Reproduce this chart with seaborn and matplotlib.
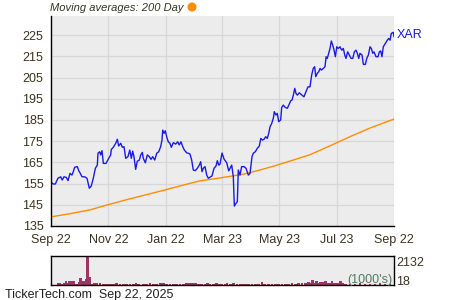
import matplotlib
matplotlib.use("Agg")
import matplotlib.pyplot as plt
from matplotlib.patches import Ellipse
from matplotlib.ticker import FixedLocator
import seaborn as sns

# ---------------- data ----------------
price_days = [0.0, 2.1, 4.6, 7.4, 10.3, 12.0, 13.8, 16.3, 18.1, 20.2, 22.3, 23.7, 25.2, 28.0, 29.5,
              31.2, 33.0, 35.9, 38.3, 40.8, 42.9, 45.0, 47.2, 49.3, 50.0, 51.8, 52.9, 54.3, 55.7,
              58.5, 61.4, 63.5, 64.2, 66.3, 67.8, 68.9, 70.6, 72.0, 74.2, 75.9, 77.7, 79.5, 81.9,
              83.8, 85.5, 86.9, 88.3, 90.1, 91.8, 94.0, 95.5, 97.2, 98.2, 100.4, 102.5, 104.6,
              106.4, 108.2, 110.4, 112.5, 114.6, 116.7, 118.1, 118.9, 120.3, 121.6, 123.1, 124.8,
              126.6, 128.0, 130.2, 132.7, 134.8, 136.5, 138.3, 140.2, 141.9, 144.4, 146.1, 147.9,
              149.7, 151.4, 153.6, 155.7, 157.8, 159.3, 160.7, 162.1, 163.9, 165.7, 167.4, 169.2,
              171.3, 173.5, 175.6, 177.0, 178.5, 179.8, 182.0, 184.1, 187.0, 189.1, 192.3, 194.0,
              195.1, 196.9, 198.3, 199.3, 201.1, 202.9, 205.4, 207.5, 210.0, 211.8, 213.9, 215.3,
              217.4, 219.5, 221.7, 223.2, 224.9, 226.7, 228.5, 230.2, 231.7, 233.1, 234.9, 236.6,
              237.6, 239.4, 240.8, 242.3, 244.4, 245.5, 247.2, 249.3, 251.5, 253.6, 255.1, 256.5,
              257.9, 259.4, 260.7, 262.1, 264.2, 267.8, 269.2, 271.3, 273.5, 275.6, 277.4, 279.1,
              280.6, 281.7, 283.4, 284.9, 286.3, 287.7, 289.8, 291.6, 292.7, 294.0, 295.5, 296.9,
              298.3, 299.8, 301.2, 302.6, 304.1, 305.7, 307.5, 309.4, 311.1, 312.6, 313.9, 315.7,
              317.4, 319.3, 321.1, 322.8, 324.6, 326.0, 327.5, 328.8, 331.0, 332.4, 334.5, 336.0,
              337.7, 339.5, 340.9, 342.4, 343.7, 345.9, 348.0, 349.4, 350.9, 352.2, 353.6, 355.7,
              357.9, 359.4, 360.8, 362.1, 364.3, 365.0]
price_vals = [155.9, 154.8, 154.8, 157.5, 158.2, 156.7, 158.2, 157.9, 156.4, 159.8, 159.0, 160.6,
              162.7, 163.0, 161.1, 159.8, 158.2, 158.2, 157.5, 152.8, 153.9, 157.5, 162.2, 163.7,
              169.3, 170.0, 168.5, 170.5, 164.5, 164.5, 166.9, 168.5, 171.1, 172.1, 173.2, 174.0,
              175.9, 172.7, 174.0, 172.1, 172.4, 166.9, 167.7, 170.8, 166.9, 170.3, 167.7, 161.7,
              165.5, 166.1, 168.5, 169.7, 166.9, 164.8, 168.5, 167.7, 166.4, 167.7, 166.1, 169.3,
              170.0, 172.4, 175.5, 180.2, 178.7, 179.9, 177.1, 174.7, 174.0, 172.1, 174.3, 173.6,
              174.7, 173.2, 174.7, 172.4, 170.8, 169.5, 169.3, 168.9, 166.1, 161.4, 161.1, 162.2,
              163.7, 165.3, 160.6, 162.2, 163.0, 159.0, 157.5, 158.0, 158.6, 162.2, 163.3, 165.8,
              163.7, 164.1, 169.4, 166.6, 164.8, 161.0, 163.7, 158.2, 144.4, 145.7, 146.5, 161.4,
              159.0, 163.0, 163.0, 162.2, 159.0, 159.8, 167.7, 169.3, 170.0, 171.6, 172.7, 176.3,
              175.5, 175.9, 177.1, 176.3, 178.7, 181.8, 183.4, 185.8, 188.9, 187.3, 188.1, 184.2,
              185.0, 190.9, 192.0, 190.9, 190.5, 192.5, 194.0, 194.4, 196.7, 199.9, 197.5, 196.7,
              197.8, 196.4, 195.9, 198.3, 200.6, 200.6, 206.2, 209.3, 210.1, 205.4, 207.0, 207.7,
              209.3, 208.5, 209.3, 210.1, 214.8, 214.0, 216.4, 218.7, 222.2, 220.3, 217.9, 214.8,
              219.5, 218.7, 219.5, 217.9, 218.7, 215.6, 214.0, 217.1, 215.6, 214.0, 214.0, 217.1,
              217.9, 216.4, 214.0, 216.4, 215.6, 211.2, 211.2, 214.0, 215.6, 219.5, 218.7, 216.4,
              217.1, 214.8, 214.8, 217.1, 217.5, 214.8, 219.5, 221.0, 222.6, 223.4, 222.6, 225.8,
              226.3, 224.2]

ma_days = [0.0, 20.2, 41.5, 59.6, 78.8, 100.0, 121.3, 142.6, 158.6, 174.5, 190.5, 206.5, 222.4,
           238.4, 254.3, 275.6, 296.9, 318.2, 339.5, 365.0]
ma_vals = [139.3, 140.8, 142.6, 144.9, 147.2, 149.6, 152.0, 154.5, 156.3, 157.3, 158.4, 159.6,
           161.4, 163.4, 165.6, 168.6, 172.8, 177.1, 181.2, 185.4]

vol_days = [7.4, 9.6, 11.7, 13.8, 16.0, 18.1, 19.5, 21.6, 23.1, 24.5, 25.9, 28.0, 30.1, 31.6,
            33.0, 34.4, 35.9, 37.2, 38.8, 40.8, 42.2, 44.4, 46.5, 48.6, 52.1, 55.7, 59.2, 62.0,
            64.2, 66.3, 69.9, 73.4, 77.0, 80.6, 84.1, 87.6, 90.5, 92.9, 95.5, 98.2, 101.8, 105.4,
            108.9, 112.5, 115.9, 118.1, 120.3, 123.1, 126.6, 130.2, 133.8, 137.3, 140.8, 143.7,
            146.1, 148.7, 151.4, 154.3, 157.2, 160.4, 163.9, 166.3, 169.2, 172.7, 176.3, 179.1,
            181.7, 185.2, 187.3, 190.8, 194.4, 197.9, 201.5, 204.0, 206.8, 210.4, 213.9, 217.4,
            221.0, 224.5, 227.4, 231.7, 235.2, 238.7, 242.3, 245.8, 249.3, 253.0, 256.5, 260.0,
            263.6, 267.1, 270.6, 274.2, 276.4, 278.5, 280.6, 282.8, 284.9, 287.0, 289.1, 291.9,
            294.8, 296.9, 299.0, 301.2, 303.3, 306.2, 308.3, 310.4, 311.8, 313.9, 318.2, 323.5,
            328.8, 334.2, 339.5, 344.8, 350.1, 355.4, 360.8]
vol_vals = [178, 178, 51, 127, 279, 127, 330, 76, 330, 330, 76, 51, 229, 483, 279, 330, 330, 432,
            2132, 584, 76, 51, 152, 127, 127, 102, 102, 76, 51, 51, 127, 76, 76, 102, 51, 76, 127,
            76, 25, 51, 76, 178, 76, 102, 127, 178, 127, 102, 76, 76, 51, 51, 76, 152, 127, 127,
            152, 152, 76, 76, 76, 127, 76, 102, 178, 102, 51, 51, 127, 76, 127, 76, 102, 51, 102,
            76, 51, 76, 76, 203, 76, 51, 51, 51, 51, 76, 51, 51, 127, 102, 127, 178, 152, 203, 127,
            381, 178, 279, 178, 229, 229, 279, 178, 127, 279, 127, 152, 178, 279, 178, 76, 76, 102,
            76, 127, 102, 76, 102, 127, 102, 76]

xtick_days = [0, 61, 122, 182, 243, 304, 365]
xtick_labels = ["Sep 22", "Nov 22", "Jan 22", "Mar 23", "May 23", "Jul 23", "Sep 22"]
xminor_days = [30, 91, 153, 212, 273, 335]
ytick_vals = [135, 145, 155, 165, 175, 185, 195, 205, 215, 225]
yminor_vals = [140, 150, 160, 170, 180, 190, 200, 210, 220, 230]
ticker = "XAR"
title = "Moving averages: 200 Day"
footer = "TickerTech.com  Sep 22, 2025"
vol_max_label = "2132"
vol_min_label = "18"
vol_unit = "(1000's)"

# ---------------- style ----------------
sns.set_style("white")
plt.rcParams['font.family'] = ['Liberation Sans', 'DejaVu Sans']

BG = "#ECECEC"
GRID = "#D7D7D7"
TXT = "#3E3220"
BLUE = "#1A1AE6"
ORANGE = "#FF8C00"
VOL = "#9E3366"
W, H = 450, 300

fig = plt.figure(figsize=(4.5, 3), dpi=100)

# main price axes
ax = fig.add_axes([51 / W, 1 - 226 / H, 343 / W, 210 / H])
ax.set_facecolor(BG)
ax.set_axisbelow(True)
sns.lineplot(x=ma_days, y=ma_vals, ax=ax, color=ORANGE, lw=1.0, sort=False)
sns.lineplot(x=price_days, y=price_vals, ax=ax, color=BLUE, lw=1.0, sort=False)

ax.set_xlim(0, 365)
ax.set_ylim(135, 234)
ax.set_xticks(xtick_days)
ax.set_xticklabels(xtick_labels)
ax.xaxis.set_minor_locator(FixedLocator(xminor_days))
ax.set_yticks(ytick_vals)
ax.yaxis.set_minor_locator(FixedLocator(yminor_vals))
ax.grid(True, which="major", color=GRID, lw=0.9)
ax.tick_params(axis="both", which="both", direction="in", color="black", width=0.8,
               labelsize=9, labelcolor=TXT)
ax.tick_params(axis="x", which="both", length=4, pad=6)
ax.tick_params(axis="y", which="both", length=2.5, pad=5.5)
ax.set_xlabel("")
ax.set_ylabel("")
for s in ["top", "right"]:
    ax.spines[s].set_visible(False)
for s in ["left", "bottom"]:
    ax.spines[s].set_color("black")
    ax.spines[s].set_linewidth(1.0)

ax.annotate(ticker, xy=(price_days[-1], price_vals[-1]), xytext=(2, 1),
            textcoords="offset points", color=BLUE, fontsize=9, va="center", ha="left",
            annotation_clip=False)

# title + orange dot
fig.text(50 / W, 1 - 8 / H, title, fontsize=8, style="italic", color="#333322",
         ha="left", va="center")
fig.add_artist(Ellipse((192 / W, 1 - 7 / H), 9 / W, 9 / H, transform=fig.transFigure,
                       color=ORANGE, lw=0))

# volume axes
axv = fig.add_axes([51 / W, 1 - 285 / H, 343 / W, 29 / H])
axv.set_facecolor(BG)
axv.bar(vol_days, vol_vals, width=2.8, color=VOL, lw=0, align="center")
axv.set_xlim(0, 365)
axv.set_ylim(0, 2132)
axv.set_xticks([])
axv.set_yticks([])
for s in axv.spines.values():
    s.set_color("black")
    s.set_linewidth(1.0)

fig.text(396 / W, 1 - 263 / H, vol_max_label, fontsize=9, color=TXT, ha="left", va="center")
fig.text(396 / W, 1 - 282 / H, vol_min_label, fontsize=9, color=TXT, ha="left", va="center")
fig.text(392 / W, 1 - 280 / H, vol_unit, fontsize=9, color="#4E7D5E", ha="right", va="center")

fig.text(5 / W, 1 - 295 / H, footer, fontsize=9, color="#222222", ha="left", va="center")

fig.savefig("out.png", dpi=100)
